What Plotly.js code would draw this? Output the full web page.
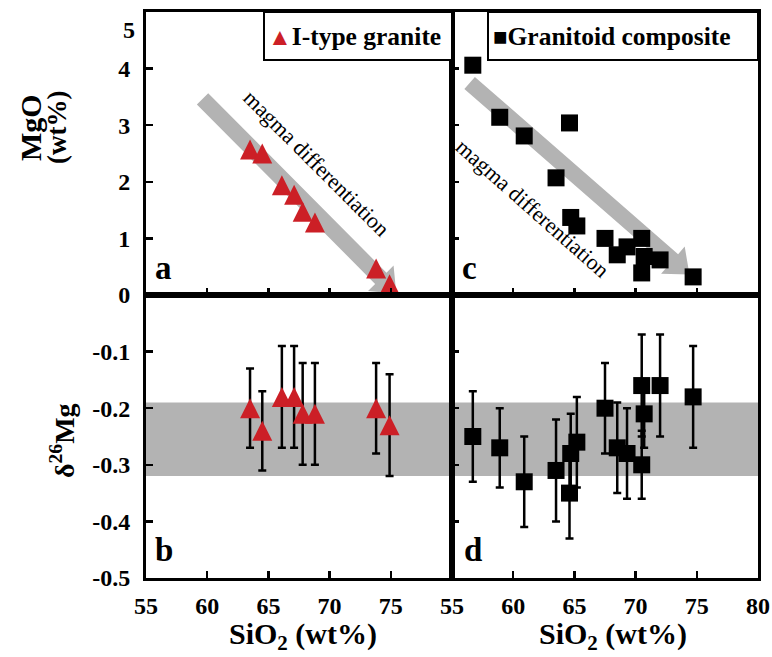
<!DOCTYPE html>
<html>
<head>
<meta charset="utf-8">
<script src="https://cdn.plot.ly/plotly-3.0.1.min.js"></script>
<style>html,body{margin:0;padding:0;background:#fff;}</style>
</head>
<body>
<div id="chart" style="width:772px;height:657px;"></div>
<script>
// I-type granite samples
const iTypeSiO2  = [63.5, 64.5, 66.1, 67.1, 67.8, 68.8, 73.8, 74.9];
const iTypeMgO   = [2.57, 2.50, 1.94, 1.77, 1.47, 1.28, 0.47, 0.19];
const iTypeD26Mg = [-0.20, -0.24, -0.18, -0.18, -0.21, -0.21, -0.20, -0.23];
const iTypeErr   = [0.07, 0.07, 0.09, 0.09, 0.09, 0.09, 0.08, 0.09];

// Granitoid composite samples
const compSiO2  = [56.7, 58.9, 60.9, 63.5, 64.6, 64.7, 65.2, 67.5, 68.5, 69.3, 70.5, 70.7, 70.5, 72.0, 74.7];
const compMgO   = [4.06, 3.14, 2.81, 2.07, 3.04, 1.37, 1.22, 1.00, 0.71, 0.85, 1.00, 0.68, 0.39, 0.62, 0.32];
const compD26Mg = [-0.25, -0.27, -0.33, -0.31, -0.35, -0.28, -0.26, -0.20, -0.27, -0.28, -0.16, -0.21, -0.30, -0.16, -0.18];
const compErr   = [0.08, 0.07, 0.08, 0.09, 0.08, 0.07, 0.08, 0.08, 0.08, 0.08, 0.09, 0.06, 0.06, 0.09, 0.09];

// Mantle-like δ26Mg band
const bandLow = -0.32, bandHigh = -0.19;

// Tick labels
const sio2TicksLeft  = [55, 60, 65, 70, 75];
const sio2TicksRight = [55, 60, 65, 70, 75, 80];
const mgoTicks = [0, 1, 2, 3, 4];
const d26Ticks = [-0.5, -0.4, -0.3, -0.2, -0.1];
const d26TickText = ['-0.5', '-0.4', '-0.3', '-0.2', '-0.1'];

const W = 772, H = 657;
const M = {l: 146, r: 14, t: 12, b: 79};
const plotW = W - M.l - M.r;
const plotH = H - M.t - M.b;
const px = v => (v - M.l) / plotW;
const py = v => (H - M.b - v) / plotH;
const b = s => '<b>' + s + '</b>';

const RED = '#cc1f26';
const GREY = '#b3b3b3';
const SERIF = 'Liberation Serif, Times New Roman, serif';

// Wide arrow polygon in data units of a top panel, sized in pixels
function arrowPath(x0, y0, x1, y1, shaft, headW, headL) {
  const kx = (plotW / 2) / 25, ky = (plotH / 2) / 5;
  const X0 = x0 * kx, Y0 = y0 * ky, X1 = x1 * kx, Y1 = y1 * ky;
  const dx = X1 - X0, dy = Y1 - Y0, L = Math.hypot(dx, dy);
  const ux = dx / L, uy = dy / L, nx = -uy, ny = ux;
  const bx = X1 - ux * headL, by = Y1 - uy * headL;
  const pts = [
    [X0 + nx * shaft / 2, Y0 + ny * shaft / 2],
    [bx + nx * shaft / 2, by + ny * shaft / 2],
    [bx + nx * headW / 2, by + ny * headW / 2],
    [X1, Y1],
    [bx - nx * headW / 2, by - ny * headW / 2],
    [bx - nx * shaft / 2, by - ny * shaft / 2],
    [X0 - nx * shaft / 2, Y0 - ny * shaft / 2]
  ];
  return 'M' + pts.map(p => (p[0] / kx).toFixed(4) + ',' + (p[1] / ky).toFixed(4)).join('L') + 'Z';
}

const tickFont = {family: SERIF, size: 24, color: '#000'};
const axBase = {
  showline: true, mirror: true, linecolor: '#000', linewidth: 3,
  ticks: 'inside', ticklen: 7, tickwidth: 2.5, tickcolor: '#000',
  showgrid: false, zeroline: false, tickfont: tickFont, fixedrange: true
};

const triMarker = {symbol: 'arrow-down', angle: 180, size: 20, standoff: 10, color: RED, line: {width: 0}};
const sqMarker = {symbol: 'square', size: 17, color: '#000', line: {width: 0}};
const errStyle = arr => ({type: 'data', array: arr, visible: true, color: '#000', thickness: 2.5, width: 4});

const traces = [
  {x: iTypeSiO2, y: iTypeMgO, xaxis: 'x', yaxis: 'y', mode: 'markers', marker: triMarker, name: 'I-type granite'},
  {x: iTypeSiO2, y: iTypeD26Mg, xaxis: 'x3', yaxis: 'y3', mode: 'markers', marker: triMarker,
   error_y: errStyle(iTypeErr), name: 'I-type granite'},
  {x: compSiO2, y: compMgO, xaxis: 'x2', yaxis: 'y2', mode: 'markers', marker: sqMarker, name: 'Granitoid composite'},
  {x: compSiO2, y: compD26Mg, xaxis: 'x4', yaxis: 'y4', mode: 'markers', marker: sqMarker,
   error_y: errStyle(compErr), name: 'Granitoid composite'}
];

const note = (t, x, y, size, extra) => Object.assign({
  text: t, x: px(x), y: py(y), xref: 'paper', yref: 'paper', showarrow: false,
  xanchor: 'center', yanchor: 'middle',
  font: {family: SERIF, size: size, color: '#000'}
}, extra || {});

const annotations = [
  // top tick label of the MgO axis
  note(b('5'), 137, 30, 24, {xanchor: 'right'}),
  // panel letters
  note(b('a'), 163, 268, 33),
  note(b('b'), 164, 550, 33),
  note(b('c'), 469, 268, 33),
  note(b('d'), 473, 550, 33),
  // legend entries
  note('<span style="color:' + RED + ';font-size:24px">▲</span>' + b('I-type granite'), 266, 37, 25.5, {xanchor: 'left'}),
  note('<span style="font-size:24px">■</span>' + b('Granitoid composite'), 491, 37, 25.5, {xanchor: 'left'}),
  // trend labels
  note('magma differentiation', 317, 163, 22, {textangle: 45}),
  note('magma differentiation', 533, 208, 22, {textangle: 41.5}),
  // axis titles
  note(b('MgO'), 30, 128, 30, {textangle: -90}),
  note(b('(wt%)'), 57, 128, 27, {textangle: -90}),
  note(b('δ<sup>26</sup>Mg'), 62, 440, 28, {textangle: -90}),
  note(b('SiO<sub>2</sub> (wt%)'), 303, 636, 30),
  note(b('SiO<sub>2</sub> (wt%)'), 613, 636, 30)
];

const shapes = [
  {type: 'rect', xref: 'paper', yref: 'y3', x0: 0, x1: 1, y0: bandLow, y1: bandHigh,
   fillcolor: GREY, line: {width: 0}, layer: 'below'},
  {type: 'path', xref: 'x', yref: 'y', path: arrowPath(59.62, 3.465, 75.45, 0.02, 16, 36, 22),
   fillcolor: GREY, line: {width: 0}, layer: 'below'},
  {type: 'path', xref: 'x2', yref: 'y2', path: arrowPath(56.44, 3.745, 74.4, 0.36, 16, 36, 22),
   fillcolor: GREY, line: {width: 0}, layer: 'below'},
  {type: 'rect', xref: 'paper', yref: 'paper', x0: px(264), x1: px(452), y0: py(60), y1: 1,
   fillcolor: '#fff', line: {color: '#000', width: 2}},
  {type: 'rect', xref: 'paper', yref: 'paper', x0: px(488), x1: px(758), y0: py(60), y1: 1,
   fillcolor: '#fff', line: {color: '#000', width: 2}}
];

const layout = {
  width: W, height: H, margin: M,
  paper_bgcolor: '#fff', plot_bgcolor: '#fff',
  showlegend: false,
  xaxis:  Object.assign({}, axBase, {domain: [0, 0.5], range: [55, 80], anchor: 'y', tickvals: sio2TicksRight, showticklabels: false}),
  xaxis2: Object.assign({}, axBase, {domain: [0.5, 1], range: [55, 80], anchor: 'y2', tickvals: sio2TicksRight, showticklabels: false}),
  xaxis3: Object.assign({}, axBase, {domain: [0, 0.5], range: [55, 80], anchor: 'y3', tickvals: sio2TicksLeft, ticktext: sio2TicksLeft.map(v => b(v)), ticklabelstandoff: 4}),
  xaxis4: Object.assign({}, axBase, {domain: [0.5, 1], range: [55, 80], anchor: 'y4', tickvals: sio2TicksRight, ticktext: sio2TicksRight.map(v => b(v)), ticklabelstandoff: 4}),
  yaxis:  Object.assign({}, axBase, {domain: [0.5, 1], range: [0, 5], anchor: 'x', tickvals: mgoTicks, ticktext: mgoTicks.map(v => b(v)), ticklabelstandoff: 8}),
  yaxis2: Object.assign({}, axBase, {domain: [0.5, 1], range: [0, 5], anchor: 'x2', tickvals: mgoTicks, showticklabels: false}),
  yaxis3: Object.assign({}, axBase, {domain: [0, 0.5], range: [-0.5, 0], anchor: 'x3', tickvals: d26Ticks, ticktext: d26TickText.map(b), ticklabelstandoff: 8}),
  yaxis4: Object.assign({}, axBase, {domain: [0, 0.5], range: [-0.5, 0], anchor: 'x4', tickvals: d26Ticks, showticklabels: false}),
  shapes: shapes,
  annotations: annotations
};

Plotly.newPlot('chart', traces, layout, {displayModeBar: false, staticPlot: true});
</script>
</body>
</html>
